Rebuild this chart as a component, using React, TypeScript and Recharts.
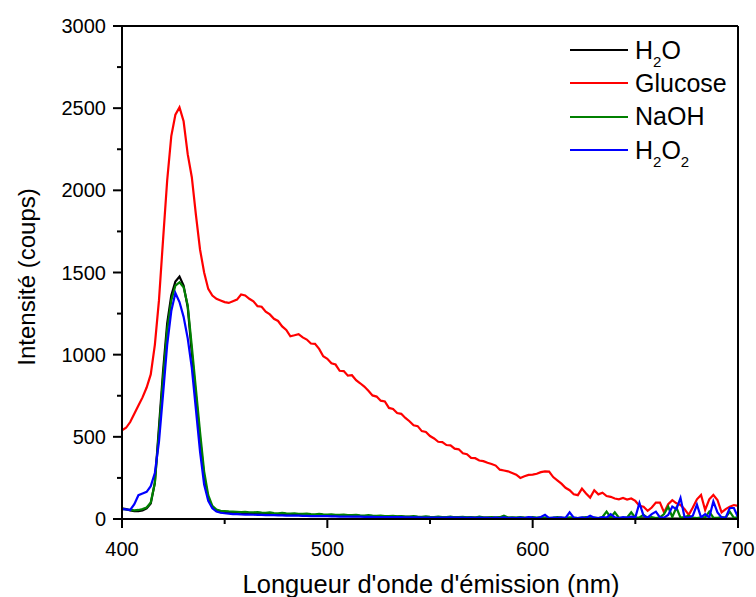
import React from "react";
import { LineChart, Line, XAxis, YAxis, ReferenceLine } from "recharts";

// emission wavelength (nm), 2 nm steps
const wavelengths = [
  400, 402, 404, 406, 408, 410, 412, 414, 416, 418,
  420, 422, 424, 426, 428, 430, 432, 434, 436, 438,
  440, 442, 444, 446, 448, 450, 452, 454, 456, 458,
  460, 462, 464, 466, 468, 470, 472, 474, 476, 478,
  480, 482, 484, 486, 488, 490, 492, 494, 496, 498,
  500, 502, 504, 506, 508, 510, 512, 514, 516, 518,
  520, 522, 524, 526, 528, 530, 532, 534, 536, 538,
  540, 542, 544, 546, 548, 550, 552, 554, 556, 558,
  560, 562, 564, 566, 568, 570, 572, 574, 576, 578,
  580, 582, 584, 586, 588, 590, 592, 594, 596, 598,
  600, 602, 604, 606, 608, 610, 612, 614, 616, 618,
  620, 622, 624, 626, 628, 630, 632, 634, 636, 638,
  640, 642, 644, 646, 648, 650, 652, 654, 656, 658,
  660, 662, 664, 666, 668, 670, 672, 674, 676, 678,
  680, 682, 684, 686, 688, 690, 692, 694, 696, 698,
  700,
];

const h2o = [
  65, 60, 52, 48, 48, 52, 65, 95, 220, 560,
  900, 1190, 1360, 1445, 1475, 1420, 1290, 1010, 750, 490,
  260, 125, 72, 50, 42, 40, 38, 37, 36, 35,
  34, 34, 33, 32, 31, 30, 30, 29, 28, 28,
  27, 26, 26, 25, 24, 24, 23, 23, 22, 22,
  21, 21, 20, 20, 19, 19, 18, 18, 17, 17,
  17, 16, 16, 15, 15, 15, 14, 14, 14, 13,
  13, 13, 12, 12, 12, 12, 11, 11, 11, 10,
  10, 10, 10, 9, 9, 9, 9, 9, 8, 8,
  8, 8, 8, 8, 7, 7, 7, 7, 7, 7,
  6, 6, 6, 6, 6, 6, 6, 5, 5, 5,
  5, 5, 5, 5, 5, 5, 5, 5, 4, 4,
  4, 4, 4, 4, 4, 4, 4, 4, 4, 3,
  3, 3, 3, 3, 3, 3, 3, 3, 3, 3,
  3, 3, 3, 3, 3, 3, 3, 3, 3, 3,
  3,
];

const glucose = [
  540, 555, 590, 640, 690, 740, 800, 880, 1060, 1330,
  1700, 2060, 2330, 2460, 2505, 2420, 2220, 2080, 1850, 1640,
  1500, 1400, 1360, 1340, 1330, 1320, 1315, 1325, 1335, 1366,
  1360, 1340, 1325, 1295, 1292, 1262, 1245, 1218, 1205, 1172,
  1150, 1112, 1118, 1125, 1105, 1092, 1068, 1066, 1035, 990,
  975, 948, 940, 902, 900, 872, 875, 845, 826, 806,
  780, 752, 745, 720, 715, 676, 670, 645, 640, 615,
  595, 570, 565, 535, 530, 505, 490, 470, 468, 450,
  448, 428, 424, 400, 394, 372, 370, 356, 352, 342,
  335, 325, 300, 295, 290, 280, 270, 250, 260, 268,
  270, 275, 285, 290, 288, 255, 235, 215, 190, 175,
  150, 145, 185, 155, 130, 175, 150, 160, 140, 135,
  125, 120, 128, 118, 125, 110, 80, 75, 50, 70,
  100, 100, 40, 90, 115, 95, 85, 60, 25, 70,
  120, 146, 55, 120, 146, 116, 40, 60, 75, 85,
  80,
];

const naoh = [
  62, 58, 55, 52, 55, 60, 70, 100, 220, 530,
  860, 1150, 1330, 1420, 1440, 1410, 1300, 1050, 790, 530,
  290, 145, 80, 58, 50, 48, 46, 45, 44, 42,
  44, 41, 40, 42, 39, 38, 40, 36, 35, 37,
  34, 33, 35, 32, 31, 33, 30, 29, 31, 28,
  27, 29, 26, 25, 27, 24, 23, 25, 22, 21,
  23, 20, 19, 21, 18, 17, 19, 16, 18, 15,
  14, 17, 14, 13, 16, 13, 12, 15, 11, 12,
  14, 10, 11, 13, 10, 12, 9, 14, 10, 9,
  12, 8, 11, 20, 9, 10, 8, 12, 9, 7,
  11, 8, 10, 9, 7, 9, 12, 8, 7, 10,
  9, 6, 8, 11, 7, 9, 6, 12, 45, 10,
  41, 8, 6, 10, 41, 8, 10, 25, 7, 12,
  6, 10, 30, 75, 12, 70, 8, 12, 20, 9,
  6, 10, 10, 45, 8, 7, 12, 9, 45, 7,
  10,
];

const h2o2 = [
  60, 58, 55, 90, 145, 155, 165, 200, 280, 470,
  760, 1060, 1265, 1375, 1320, 1230, 1100, 920, 665, 410,
  210, 110, 65, 45, 38, 35, 33, 30, 30, 28,
  27, 27, 26, 25, 25, 24, 24, 23, 22, 22,
  21, 21, 20, 20, 19, 19, 18, 18, 17, 17,
  17, 16, 16, 15, 15, 15, 14, 14, 14, 13,
  13, 13, 12, 12, 12, 12, 11, 11, 11, 10,
  10, 10, 10, 9, 9, 9, 9, 9, 8, 8,
  10, 8, 8, 8, 7, 8, 7, 9, 7, 7,
  6, 8, 6, 10, 6, 7, 6, 9, 6, 12,
  8, 6, 12, 25, 6, 9, 7, 10, 6, 40,
  8, 6, 10, 6, 20, 8, 6, 12, 8, 30,
  10, 6, 12, 8, 15, 10, 97, 20, 8, 30,
  45, 10, 8, 25, 75, 60, 128, 10, 8, 20,
  87, 10, 30, 10, 107, 40, 10, 8, 67, 67,
  10,
];

const xTicks = [400, 450, 500, 550, 600, 650, 700];
const yTicks = [0, 250, 500, 750, 1000, 1250, 1500, 1750, 2000, 2250, 2500, 2750, 3000];

const series = [
  { key: "h2o", label: "H2O", color: "#000000" },
  { key: "glucose", label: "Glucose", color: "#ff0000" },
  { key: "naoh", label: "NaOH", color: "#008000" },
  { key: "h2o2", label: "H2O2", color: "#0000ff" },
];

const data = wavelengths.map((wl, i) => ({
  wl,
  h2o: h2o[i],
  glucose: glucose[i],
  naoh: naoh[i],
  h2o2: h2o2[i],
}));

const FONT = "'Liberation Sans', Arial, Helvetica, sans-serif";

// digits in chemical formulas are drawn as subscripts
function Formula({ text }: { text: string }) {
  const parts = text.split(/(\d)/).filter(Boolean);
  return (
    <>
      {parts.map((p, i) =>
        /\d/.test(p) ? (
          <span key={i} style={{ fontSize: 15, position: "relative", top: 8 }}>{p}</span>
        ) : (
          <span key={i}>{p}</span>
        )
      )}
    </>
  );
}

const XTick = (props: any) => {
  const { x, y, payload } = props;
  const major = payload.value % 100 === 0;
  return (
    <g>
      <line x1={x} x2={x} y1={y} y2={y + (major ? 9 : 5)} stroke="#000" strokeWidth={2} />
      {major && (
        <text x={x} y={y + 37} textAnchor="middle" fontSize={20} fontFamily={FONT} fill="#000">
          {payload.value}
        </text>
      )}
    </g>
  );
};

const YTick = (props: any) => {
  const { x, y, payload } = props;
  const major = payload.value % 500 === 0;
  return (
    <g>
      <line x1={x} x2={x - (major ? 9 : 5)} y1={y} y2={y} stroke="#000" strokeWidth={2} />
      {major && (
        <text x={x - 16} y={y + 7} textAnchor="end" fontSize={20} fontFamily={FONT} fill="#000">
          {payload.value}
        </text>
      )}
    </g>
  );
};

export default function App() {
  return (
    <div style={{ position: "absolute", left: 0, top: 0, width: 756, height: 597, background: "#fff" }}>
      <LineChart width={756} height={597} data={data} margin={{ top: 26, right: 18, left: 0, bottom: 0 }}>
        <XAxis
          dataKey="wl"
          type="number"
          domain={[400, 700]}
          ticks={xTicks}
          interval={0}
          height={78}
          tickSize={0}
          tickMargin={0}
          tickLine={false}
          tick={XTick}
          axisLine={{ stroke: "#000", strokeWidth: 2 }}
        />
        <YAxis
          type="number"
          domain={[0, 3000]}
          ticks={yTicks}
          interval={0}
          width={122}
          tickSize={0}
          tickMargin={0}
          tickLine={false}
          tick={YTick}
          axisLine={{ stroke: "#000", strokeWidth: 2 }}
        />
        {series.map((s) => (
          <Line
            key={s.key}
            type="linear"
            dataKey={s.key}
            stroke={s.color}
            strokeWidth={2.2}
            dot={false}
            isAnimationActive={false}
          />
        ))}
        <ReferenceLine y={3000} stroke="#000" strokeWidth={2} />
        <ReferenceLine x={700} stroke="#000" strokeWidth={2} />
        <text
          x={26}
          y={277}
          transform="rotate(-90, 26, 277)"
          textAnchor="middle"
          dominantBaseline="central"
          fontSize={24}
          fontFamily={FONT}
          fill="#000"
        >
          Intensité (coups)
        </text>
        <text x={431} y={593} textAnchor="middle" fontSize={25.5} fontFamily={FONT} fill="#000">
          Longueur d'onde d'émission (nm)
        </text>
      </LineChart>
      <div style={{ position: "absolute", left: 570, top: 33.5, fontFamily: FONT, fontSize: 25, color: "#000" }}>
        {series.map((s) => (
          <div key={s.key} style={{ display: "flex", alignItems: "center", height: 33.3 }}>
            <div style={{ width: 58, height: 0, borderTop: `2px solid ${s.color}`, marginRight: 7 }} />
            <span style={{ lineHeight: 1, whiteSpace: "nowrap" }}>
              <Formula text={s.label} />
            </span>
          </div>
        ))}
      </div>
    </div>
  );
}
